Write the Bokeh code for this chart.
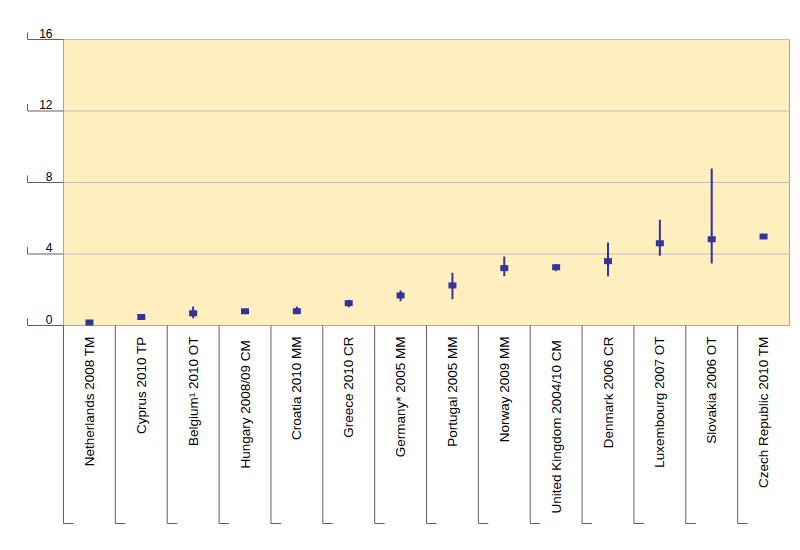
import math
from bokeh.plotting import figure
from bokeh.models import Range1d, ColumnDataSource
from bokeh.core.properties import value
from bokeh.embed import file_html
from bokeh.resources import INLINE

# ---------------- data ----------------
categories = [
    "Netherlands 2008 TM", "Cyprus 2010 TP", "Belgium\u00b9 2010 OT",
    "Hungary  2008/09 CM", "Croatia 2010 MM", "Greece 2010 CR",
    "Germany* 2005 MM", "Portugal 2005 MM", "Norway 2009 MM",
    "United Kingdom  2004/10 CM", "Denmark 2006 CR", "Luxembourg 2007 OT",
    "Slovakia 2006 OT", "Czech Republic 2010 TM",
]
values = [0.17, 0.48, 0.69, 0.80, 0.80, 1.25, 1.68, 2.24, 3.21, 3.26, 3.60, 4.60, 4.82, 4.98]
err_low = [None, None, 0.41, None, 0.75, 1.02, 1.36, 1.47, 2.76, 3.04, 2.76, 3.90, 3.47, None]
err_high = [None, None, 1.06, None, 1.06, 1.44, 1.96, 2.95, 3.86, 3.43, 4.64, 5.91, 8.78, None]
y_ticks = [0, 4, 8, 12, 16]
y_tick_labels = ["0", "4", "8", "12", "16"]
y_max = 16

# ---------------- layout (pixels) ----------------
FIG_W, FIG_H = 792, 542
PLOT_L, PLOT_T = 63, 39          # plot-area position inside the canvas
PLOT_W, PLOT_H = 726, 286
n = len(categories)
ppx = PLOT_W / n                 # pixels per category
ppy = PLOT_H / y_max             # pixels per value unit
dx = lambda px: px / ppx
dy = lambda px: px / ppy

x_range = Range1d(-dx(PLOT_L), n + dx(FIG_W - PLOT_L - PLOT_W))
y_range = Range1d(-dy(FIG_H - PLOT_T - PLOT_H), y_max + dy(PLOT_T))

p = figure(width=FIG_W, height=FIG_H, x_range=x_range, y_range=y_range,
           output_backend="svg", toolbar_location=None,
           x_axis_type=None, y_axis_type=None, min_border=0)
p.outline_line_color = None
p.xgrid.visible = False
p.ygrid.visible = False
p.background_fill_color = "white"
p.border_fill_color = "white"

NAVY = "#333399"
FONT = value("Liberation Sans")

# plot area
p.quad(left=[0], right=[n], bottom=[0], top=[y_max], fill_color="#FFEEBE", line_color=None)
grid_y = [t for t in y_ticks if 0 < t <= y_max]
p.segment(x0=[0] * len(grid_y), x1=[n] * len(grid_y), y0=grid_y, y1=grid_y,
          line_color="#C0C0C0", line_width=1)
# border
p.segment(x0=[0, n, 0], x1=[0, n, n], y0=[0, 0, 0], y1=[y_max, y_max, 0],
          line_color="#A8A8A8", line_width=1)

# left value axis (Excel style ticks)
tick_len = dx(36)
p.segment(x0=[-tick_len] * len(y_ticks), x1=[0] * len(y_ticks), y0=y_ticks, y1=y_ticks,
          line_color="#606060", line_width=1)
p.segment(x0=[-tick_len] * len(y_ticks), x1=[-tick_len] * len(y_ticks),
          y0=y_ticks, y1=[t + dy(7) for t in y_ticks], line_color="#606060", line_width=1)
p.text(x=[-dx(11)] * len(y_ticks), y=[t + dy(2) for t in y_ticks], text=y_tick_labels,
       text_align="right", text_baseline="bottom", text_font=FONT,
       text_font_size="12px", text_color="black")

# category separators
sep_x = list(range(n))
sep_bottom = -dy(198)
p.segment(x0=sep_x, x1=sep_x, y0=[0] * n, y1=[sep_bottom] * n,
          line_color="#606060", line_width=1)
p.segment(x0=sep_x, x1=[s + dx(10) for s in sep_x], y0=[sep_bottom] * n, y1=[sep_bottom] * n,
          line_color="#606060", line_width=1)

centers = [i + 0.5 for i in range(n)]
p.text(x=centers, y=[-dy(11)] * n, text=categories, angle=math.pi / 2,
       text_align="right", text_baseline="middle", text_font=FONT,
       text_font_size="13.5px", text_color="black")

# error bars
ex = [c for c, lo in zip(centers, err_low) if lo is not None]
elo = [lo for lo in err_low if lo is not None]
ehi = [hi for hi in err_high if hi is not None]
p.segment(x0=ex, x1=ex, y0=elo, y1=ehi, line_color=NAVY, line_width=2)

# markers
src = ColumnDataSource(dict(x=centers, y=values))
p.rect(x="x", y="y", width=8, height=6, width_units="screen", height_units="screen",
       source=src, fill_color=NAVY, line_color=None)

open("out.html", "w").write(file_html(p, INLINE))
